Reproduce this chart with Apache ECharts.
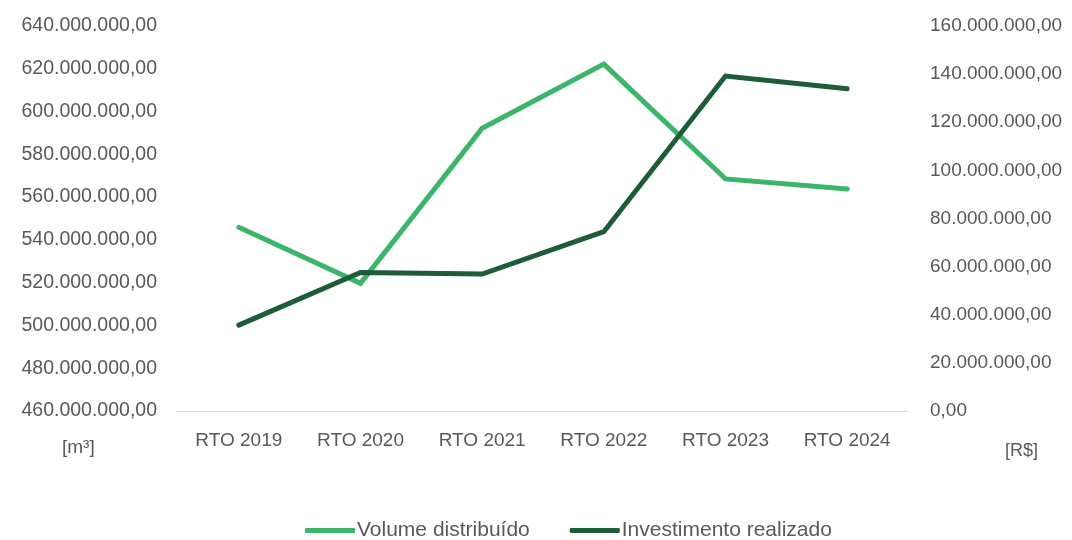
<!DOCTYPE html>
<html>
<head>
<meta charset="utf-8">
<script src="https://cdn.jsdelivr.net/npm/echarts@6/dist/echarts.min.js"></script>
<style>
  html, body { margin: 0; padding: 0; background: #fff; }
  #chart { width: 1072px; height: 540px; }
</style>
</head>
<body>
<div id="chart"></div>
<script>
// Categories and series
const categories = ['RTO 2019', 'RTO 2020', 'RTO 2021', 'RTO 2022', 'RTO 2023', 'RTO 2024'];
const volumeDistribuido = [545900000, 519700000, 592200000, 622200000, 568500000, 563800000];   // [m³]
const investimentoRealizado = [35700000, 57600000, 56900000, 74500000, 139200000, 133900000]; // [R$]

const seriesNames = ['Volume distribuído', 'Investimento realizado'];
const unitLeft = '[m³]';
const unitRight = '[R$]';

const colorLight = '#3bb56a';
const colorDark = '#1d5c36';
const textColor = '#595959';
const fontFamily = 'Liberation Sans, Arial, sans-serif';

// pt-BR number format with two decimals: 640.000.000,00
function fmt(v) {
  const parts = Math.round(v).toString().replace(/\B(?=(\d{3})+(?!\d))/g, '.');
  return parts + ',00';
}

const chart = echarts.init(document.getElementById('chart'), null, { renderer: 'canvas' });

chart.setOption({
  backgroundColor: '#ffffff',
  animation: false,
  textStyle: { fontFamily: fontFamily, color: textColor },
  grid: { left: 178, right: 164, top: 26, bottom: 129, containLabel: false },
  legend: {
    top: 515,
    left: 300,
    itemWidth: 50,
    itemHeight: 5,
    itemGap: 40,
    icon: 'roundRect',
    textStyle: { fontSize: 21, color: textColor, fontFamily: fontFamily, padding: [0, 0, 0, -3] },
    data: seriesNames
  },
  xAxis: {
    type: 'category',
    data: categories,
    boundaryGap: true,
    axisLine: { show: true, lineStyle: { color: '#d9d9d9', width: 1 } },
    axisTick: { show: false },
    axisLabel: { color: textColor, fontSize: 19, margin: 20, fontFamily: fontFamily }
  },
  yAxis: [
    {
      type: 'value',
      min: 460000000,
      max: 640000000,
      interval: 20000000,
      position: 'left',
      axisLine: { show: false },
      axisTick: { show: false },
      splitLine: { show: false },
      axisLabel: { color: textColor, fontSize: 19.5, margin: 21, fontFamily: fontFamily, formatter: fmt }
    },
    {
      type: 'value',
      min: 0,
      max: 160000000,
      interval: 20000000,
      position: 'right',
      axisLine: { show: false },
      axisTick: { show: false },
      splitLine: { show: false },
      axisLabel: { color: textColor, fontSize: 19, margin: 22, fontFamily: fontFamily, formatter: fmt }
    }
  ],
  series: [
    {
      name: seriesNames[0],
      type: 'line',
      yAxisIndex: 0,
      data: volumeDistribuido,
      showSymbol: false,
      symbol: 'none',
      lineStyle: { color: colorLight, width: 5, join: 'miter', cap: 'round' },
      itemStyle: { color: colorLight }
    },
    {
      name: seriesNames[1],
      type: 'line',
      yAxisIndex: 1,
      data: investimentoRealizado,
      showSymbol: false,
      symbol: 'none',
      lineStyle: { color: colorDark, width: 5, join: 'miter', cap: 'round' },
      itemStyle: { color: colorDark }
    }
  ],
  graphic: [
    {
      type: 'text',
      left: 62,
      top: 438,
      style: { text: unitLeft, fill: textColor, fontSize: 19, fontFamily: fontFamily }
    },
    {
      type: 'text',
      left: 1005,
      top: 442,
      style: { text: unitRight, fill: textColor, fontSize: 18, fontFamily: fontFamily }
    }
  ]
});
</script>
</body>
</html>
